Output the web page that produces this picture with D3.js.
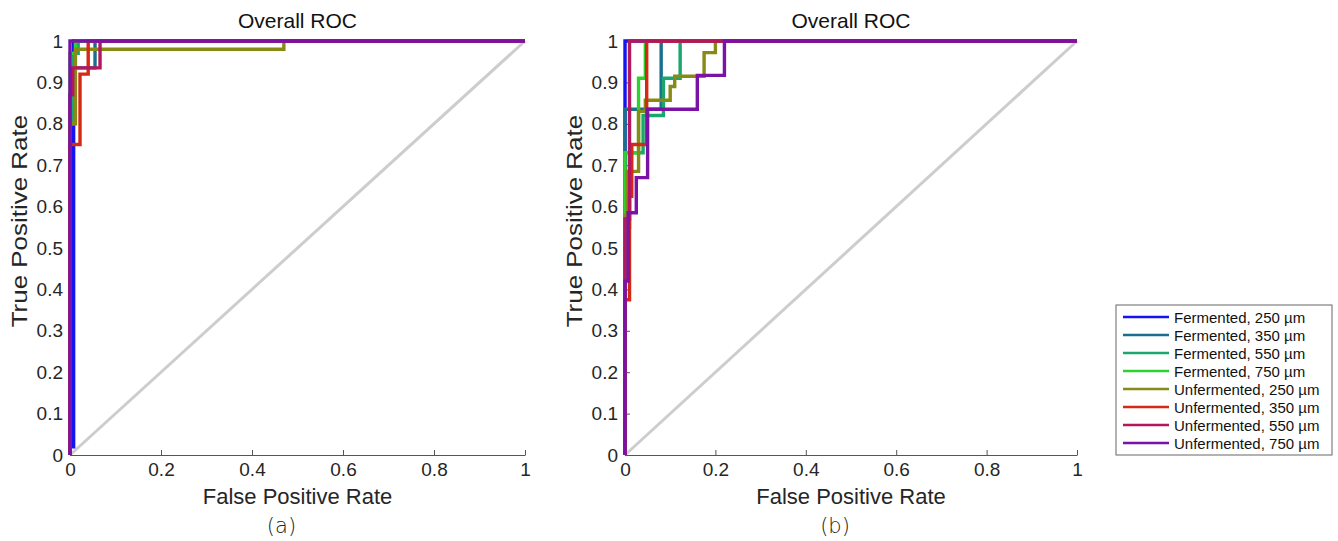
<!DOCTYPE html>
<html>
<head>
<meta charset="utf-8">
<script src="https://cdn.jsdelivr.net/npm/d3@7"></script>
<style>
  body { margin: 0; background: #fff; }
  svg text { font-family: "Liberation Sans", Arial, sans-serif; }
</style>
</head>
<body>
<div id="chart"></div>
<script>
const width = 1338;
const height = 541;

const seriesNames = [
	"Fermented, 250 µm", "Fermented, 350 µm", "Fermented, 550 µm", "Fermented, 750 µm",
	"Unfermented, 250 µm", "Unfermented, 350 µm", "Unfermented, 550 µm", "Unfermented, 750 µm"
];
const seriesColors = ["#1414f0", "#1a6f8e", "#1aa66e", "#2fd12f", "#878a14", "#d42a14", "#b3175e", "#7a12a6"];

const ticks = [0, 0.1, 0.2, 0.3, 0.4, 0.5, 0.6, 0.7, 0.8, 0.9, 1];
const xTicks = [0, 0.2, 0.4, 0.6, 0.8, 1];

// ROC points [fpr, tpr]
const rocA = [
	[[0, 0], [0, 0.02], [0.008, 0.02], [0.008, 1], [1, 1]],
	[[0, 0], [0, 0.86], [0.008, 0.86], [0.008, 0.935], [0.055, 0.935], [0.055, 1], [1, 1]],
	[[0, 0], [0, 0.8], [0.008, 0.8], [0.008, 0.97], [0.018, 0.97], [0.018, 1], [1, 1]],
	[[0, 0], [0, 0.97], [0.012, 0.97], [0.012, 1], [1, 1]],
	[[0, 0], [0, 0.8], [0.012, 0.8], [0.012, 0.98], [0.47, 0.98], [0.47, 1], [1, 1]],
	[[0, 0], [0, 0.75], [0.022, 0.75], [0.022, 0.92], [0.04, 0.92], [0.04, 1], [1, 1]],
	[[0, 0], [0, 0.87], [0.006, 0.87], [0.006, 0.935], [0.066, 0.935], [0.066, 1], [1, 1]],
	[[0, 0], [0, 1], [1, 1]]
];

// ROC points [fpr, tpr]
const rocB = [
	[[0, 0], [0, 1], [1, 1]],
	[[0, 0], [0, 0.835], [0.08, 0.835], [0.08, 1], [1, 1]],
	[[0, 0], [0, 0.55], [0.01, 0.55], [0.01, 0.73], [0.04, 0.73], [0.04, 0.82], [0.085, 0.82], [0.085, 0.91], [0.122, 0.91], [0.122, 1], [1, 1]],
	[[0, 0], [0, 0.73], [0.03, 0.73], [0.03, 0.91], [0.045, 0.91], [0.045, 1], [1, 1]],
	[[0, 0], [0, 0.58], [0.005, 0.58], [0.005, 0.685], [0.03, 0.685], [0.03, 0.83], [0.045, 0.83], [0.045, 0.857], [0.1, 0.857], [0.1, 0.89], [0.11, 0.89], [0.11, 0.915], [0.175, 0.915], [0.175, 0.972], [0.2, 0.972], [0.2, 1], [1, 1]],
	[[0, 0], [0, 0.375], [0.01, 0.375], [0.01, 0.625], [0.015, 0.625], [0.015, 0.75], [0.048, 0.75], [0.048, 1], [1, 1]],
	[[0, 0], [0, 0.57], [0.01, 0.57], [0.01, 1], [1, 1]],
	[[0, 0], [0, 0.42], [0.007, 0.42], [0.007, 0.585], [0.025, 0.585], [0.025, 0.67], [0.05, 0.67], [0.05, 0.835], [0.16, 0.835], [0.16, 0.917], [0.22, 0.917], [0.22, 1], [1, 1]]
];

const svg = d3.select("#chart")
	.append("svg")
	.attr("width", width)
	.attr("height", height);

const drawPanel = function(left, right, data, tag) {
	const x = d3.scaleLinear().domain([0, 1]).range([left, right]);
	const y = d3.scaleLinear().domain([0, 1]).range([455, 41]);
	const g = svg.append("g");

	// chance line
	g.append("line")
		.attr("x1", x(0)).attr("y1", y(0))
		.attr("x2", x(1)).attr("y2", y(1))
		.attr("stroke", "#cdcdcd")
		.attr("stroke-width", 3);

	const xAxis = g.append("g")
		.attr("transform", `translate(0,${y(0)})`)
		.call(d3.axisBottom(x).tickValues(xTicks).tickFormat(d3.format("~g")).tickSizeInner(-5).tickSizeOuter(0).tickPadding(8));
	const yAxis = g.append("g")
		.attr("transform", `translate(${x(0)},0)`)
		.call(d3.axisLeft(y).tickValues(ticks).tickFormat(d3.format("~g")).tickSizeInner(-5).tickSizeOuter(0).tickPadding(7));
	[xAxis, yAxis].forEach(a => {
		a.select(".domain").attr("stroke", "#555").attr("stroke-width", 1.2);
		a.selectAll(".tick line").attr("stroke", "#555");
		a.selectAll(".tick text").attr("fill", "#262626").style("font-size", "19px");
	});

	const line = d3.line().x(d => x(d[0])).y(d => y(d[1]));
	g.selectAll("path.roc")
		.data(data)
		.enter()
		.append("path")
		.attr("class", "roc")
		.attr("d", line)
		.attr("fill", "none")
		.attr("stroke", (d, i) => seriesColors[i])
		.attr("stroke-width", 3.4);

	const mid = (left + right) / 2;
	g.append("text")
		.attr("x", mid).attr("y", 28)
		.attr("text-anchor", "middle")
		.style("font-size", "21px")
		.attr("fill", "#111")
		.text("Overall ROC");
	g.append("text")
		.attr("x", mid).attr("y", 504)
		.attr("text-anchor", "middle")
		.style("font-size", "22px")
		.attr("fill", "#262626")
		.text("False Positive Rate");
	g.append("text")
		.attr("transform", `translate(${left - 43},${y(0.565)}) scale(1,1.18) rotate(-90)`)
		.attr("text-anchor", "middle")
		.style("font-size", "22px")
		.attr("fill", "#262626")
		.text("True Positive Rate");
	g.append("text")
		.attr("x", mid - 16).attr("y", 533)
		.attr("text-anchor", "middle")
		.style("font-size", "21px")
		.style("font-family", "'DejaVu Sans', sans-serif")
		.style("font-weight", "200")
		.attr("fill", "#222")
		.text(tag);
};

drawPanel(70, 525, rocA, "(a)");
drawPanel(625, 1077, rocB, "(b)");

// legend
const legend = svg.append("g").attr("transform", "translate(1116,305)");
legend.append("rect")
	.attr("width", 216).attr("height", 150)
	.attr("fill", "#fff")
	.attr("stroke", "#666")
	.attr("stroke-width", 1);
const item = legend.selectAll("g.item")
	.data(seriesNames)
	.enter()
	.append("g")
	.attr("class", "item")
	.attr("transform", (d, i) => `translate(0,${12 + i * 18})`);
item.append("line")
	.attr("x1", 7).attr("x2", 53)
	.attr("stroke", (d, i) => seriesColors[i])
	.attr("stroke-width", 2.5);
item.append("text")
	.attr("x", 58).attr("y", 5.5)
	.style("font-size", "15px")
	.attr("fill", "#111")
	.text(d => d);
</script>
</body>
</html>
